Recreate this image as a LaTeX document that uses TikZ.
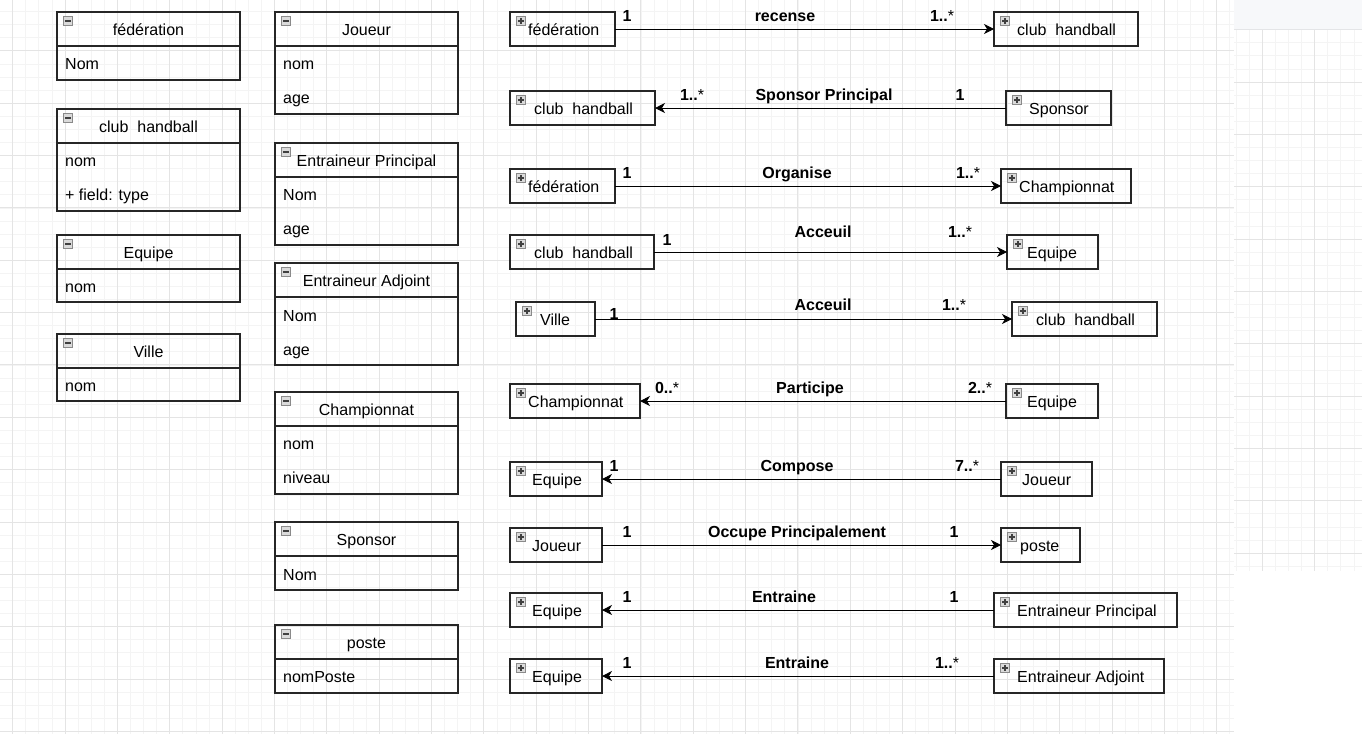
\documentclass[tikz,border=0pt]{standalone}
\usepackage{fontspec}
\setmainfont{Liberation Sans}
\usetikzlibrary{arrows.meta}
\definecolor{minorg}{HTML}{F4F4F4}
\definecolor{majorg}{HTML}{E4E4E4}
\definecolor{panelg}{HTML}{F7F8FA}
\definecolor{panelb}{HTML}{E4E5E7}
\definecolor{iconf}{HTML}{DADADA}
\definecolor{icond}{HTML}{8A8A8A}
\tikzset{
  cls/.style={draw=black!85, line width=1.2pt, inner sep=0pt, outer sep=0pt, anchor=north west},
  txt/.style={font=\fontsize{16}{19}\selectfont, inner sep=0pt, text height=11.5pt, text depth=3.4pt, yshift=-2pt},
  attr/.style={txt, anchor=west},
  lbl/.style={font=\bfseries\fontsize{16}{19}\selectfont, inner sep=0pt, text height=11.5pt, text depth=3.4pt, yshift=-1.5pt},
  assoc/.style={line width=1pt, -{Stealth[length=10pt,width=10pt,inset=3pt]}},
  minorline/.style={draw=minorg, line width=0.8pt},
  majorline/.style={draw=majorg, line width=1pt},
}
\newcommand{\iconsign}[3]{%
  \filldraw[fill=iconf, draw=icond, line width=0.6pt] ({#1-4.5},{#2-4.5}) rectangle ({#1+4.5},{#2+4.5});
  \draw[black!75, line width=1.2pt] ({#1-2.6},#2) -- ({#1+2.6},#2);
  \ifnum#3=1 \draw[black!75, line width=1.2pt] (#1,{#2-2.6}) -- (#1,{#2+2.6});\fi
}
\newcommand{\many}{1..{\mdseries*}}
% class with header: name, x, y, w, h, title
\newcommand{\classbox}[6]{%
  \node[cls, minimum width=#4pt, minimum height=#5pt] (#1) at (#2,#3) {};
  \draw[draw=black!85, line width=1.2pt] (#2,{#3+34}) -- ({#2+#4},{#3+34});
  \node[txt] (#1-t) at ({#2+#4/2},{#3+17}) {#6};
  \iconsign{#2+11}{#3+9}{0}
}
% collapsed class: name, x, y, w, text x, text
\newcommand{\smallbox}[6]{%
  \node[cls, minimum width=#4pt, minimum height=34pt] (#1) at (#2,#3) {};
  \iconsign{#2+11}{#3+9}{1}
  \node[attr] (#1-t) at (#5,{#3+17.5}) {#6};
}
\begin{document}
\begin{tikzpicture}[x=1pt,y=-1pt]
\useasboundingbox (0,0) rectangle (1362,734);
\fill[white] (0,0) rectangle (1362,734);
% main grid
\begin{scope}
  \clip (0,0) rectangle (1234,734);
  \foreach \i in {-1,...,95} \draw[minorline] ({12.7+13.0875*\i},0) -- ({12.7+13.0875*\i},734);
  \foreach \j in {0,...,57} \draw[minorline] (0,{-1.5+13.0875*\j}) -- (1234,{-1.5+13.0875*\j});
  \foreach \k in {0,...,24} \draw[majorline] ({12.7+52.35*\k},0) -- ({12.7+52.35*\k},734);
  \foreach \k in {0,...,14} \draw[majorline] (0,{-1.5+52.35*\k}) -- (1234,{-1.5+52.35*\k});
\end{scope}
% right panel grid
\begin{scope}
  \clip (1234,29.5) rectangle (1362,571);
  \foreach \i in {-3,...,8} \draw[minorline] ({1262.3+13.0875*\i},29.5) -- ({1262.3+13.0875*\i},571);
  \foreach \j in {-4,...,38} \draw[minorline] (1234,{82+13.0875*\j}) -- (1362,{82+13.0875*\j});
  \foreach \k in {-1,...,2} \draw[majorline] ({1262.3+52.35*\k},29.5) -- ({1262.3+52.35*\k},571);
  \foreach \k in {-1,...,10} \draw[majorline] (1234,{82+52.35*\k}) -- (1362,{82+52.35*\k});
\end{scope}
\fill[panelg] (1234,0) rectangle (1362,29.5);
\draw[panelb, line width=1pt] (1234,29.5) -- (1362,29.5);

% ---- column 1
\classbox{fed}{57}{12}{183}{68}{fédération}
\node[attr] (fed-a1) at (65,63) {Nom};
\classbox{club}{57}{109}{183}{102}{club~~handball}
\node[attr] (club-a1) at (65,160) {nom};
\node[attr] (club-a2) at (65,194) {+ field: type};
\classbox{equ}{57}{235}{183}{67}{Equipe}
\node[attr] (equ-a1) at (65,286) {nom};
\classbox{vil}{57}{334}{183}{67}{Ville}
\node[attr] (vil-a1) at (65,385) {nom};

% ---- column 2
\classbox{jou}{275}{12}{183}{102}{Joueur}
\node[attr] (jou-a1) at (283,63) {nom};
\node[attr] (jou-a2) at (283,97) {age};
\classbox{ep}{275}{143}{183}{102}{Entraineur Principal}
\node[attr] (ep-a1) at (283,194) {Nom};
\node[attr] (ep-a2) at (283,228) {age};
\classbox{ea}{275}{263}{183}{102}{Entraineur Adjoint}
\node[attr] (ea-a1) at (283,315) {Nom};
\node[attr] (ea-a2) at (283,349) {age};
\classbox{chp}{275}{392}{183}{102}{Championnat}
\node[attr] (chp-a1) at (283,443) {nom};
\node[attr] (chp-a2) at (283,477) {niveau};
\classbox{spo}{275}{522}{183}{68}{Sponsor}
\node[attr] (spo-a1) at (283,574) {Nom};
\classbox{pos}{275}{625}{183}{68}{poste}
\node[attr] (pos-a1) at (283,676) {nomPoste};

% ---- associations
% R1
\smallbox{fed1}{510}{12}{105}{528}{fédération}
\smallbox{ch1}{994}{12}{144}{1017}{club~~handball}
\draw[assoc] (fed1.east) -- (ch1.west);
\node[lbl] (m1a) at (627,16) {1};
\node[lbl] (r1) at (785,16) {recense};
\node[lbl] (m1b) at (942,16) {\many};
% R2
\smallbox{ch2}{510}{91}{145}{534}{club~~handball}
\smallbox{sp2}{1006}{91}{105}{1029}{Sponsor}
\draw[assoc] (sp2.west) -- (ch2.east);
\node[lbl] (m2a) at (692,95) {\many};
\node[lbl] (r2) at (824,95) {Sponsor Principal};
\node[lbl] (m2b) at (960,95) {1};
% R3
\smallbox{fed3}{510}{169}{105}{528}{fédération}
\smallbox{chp3}{1001}{169}{130}{1019}{Championnat}
\draw[assoc] (fed3.east) -- (chp3.west);
\node[lbl] (m3a) at (627,173) {1};
\node[lbl] (r3) at (797,173) {Organise};
\node[lbl] (m3b) at (968,173) {\many};
% R4
\smallbox{ch4}{510}{235}{144}{534}{club~~handball}
\smallbox{eq4}{1007}{235}{91}{1027}{Equipe}
\draw[assoc] (ch4.east) -- (eq4.west);
\node[lbl] (m4a) at (667,240) {1};
\node[lbl] (r4) at (823,232) {Acceuil};
\node[lbl] (m4b) at (960,232) {\many};
% R5
\smallbox{vil5}{516}{302}{79}{540}{Ville}
\smallbox{ch5}{1012}{302}{145}{1036}{club~~handball}
\draw[assoc] (vil5.east) -- (ch5.west);
\node[lbl] (m5a) at (614,314) {1};
\node[lbl] (r5) at (823,305) {Acceuil};
\node[lbl] (m5b) at (954,305) {\many};
% R6
\smallbox{chp6}{510}{384}{130}{528}{Championnat}
\smallbox{eq6}{1006}{384}{92}{1027}{Equipe}
\draw[assoc] (eq6.west) -- (chp6.east);
\node[lbl] (m6a) at (667,388) {0..{\mdseries*}};
\node[lbl] (r6) at (810,388) {Participe};
\node[lbl] (m6b) at (980,388) {2..{\mdseries*}};
% R7
\smallbox{eq7}{510}{462}{92}{532}{Equipe}
\smallbox{jo7}{1001}{462}{91}{1022}{Joueur}
\draw[assoc] (jo7.west) -- (eq7.east);
\node[lbl] (m7a) at (614,466) {1};
\node[lbl] (r7) at (797,466) {Compose};
\node[lbl] (m7b) at (967,466) {7..{\mdseries*}};
% R8
\smallbox{jo8}{510}{528}{92}{532}{Joueur}
\smallbox{po8}{1001}{528}{79}{1020}{poste}
\draw[assoc] (jo8.east) -- (po8.west);
\node[lbl] (m8a) at (627,532) {1};
\node[lbl] (r8) at (797,532) {Occupe Principalement};
\node[lbl] (m8b) at (954,532) {1};
% R9
\smallbox{eq9}{510}{593}{92}{532}{Equipe}
\smallbox{ep9}{994}{593}{183}{1017}{Entraineur Principal}
\draw[assoc] (ep9.west) -- (eq9.east);
\node[lbl] (m9a) at (627,597) {1};
\node[lbl] (r9) at (784,597) {Entraine};
\node[lbl] (m9b) at (954,597) {1};
% R10
\smallbox{eq10}{510}{659}{92}{532}{Equipe}
\smallbox{ea10}{994}{659}{170}{1017}{Entraineur Adjoint}
\draw[assoc] (ea10.west) -- (eq10.east);
\node[lbl] (m10a) at (627,663) {1};
\node[lbl] (r10) at (797,663) {Entraine};
\node[lbl] (m10b) at (947,663) {\many};
\end{tikzpicture}
\end{document}
